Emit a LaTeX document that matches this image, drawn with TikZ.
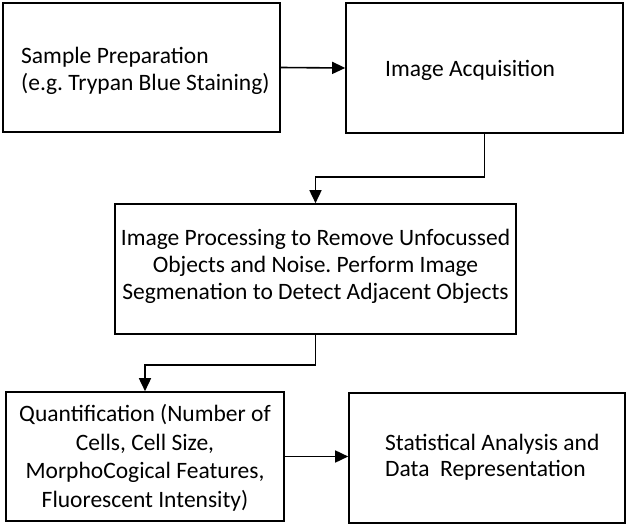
\documentclass[tikz,border=0pt]{standalone}
\usepackage{fontspec}
\setmainfont{Carlito}
\usetikzlibrary{arrows.meta}
\frenchspacing
\begin{document}
\begin{tikzpicture}[x=1pt,y=-1pt,
  box/.style={draw=black,line width=1.6pt,minimum width=#1,inner sep=0pt},
  lbl/.style={font=\fontsize{23.5}{27}\selectfont,inner sep=0pt},
  arr/.style={line width=1.6pt,-{Triangle[length=13pt,width=12pt]}}]
\useasboundingbox (0,0) rectangle (630,527);
\node[box=277pt,minimum height=129pt] (b1) at (141.5,67.5) {};
\node[box=277pt,minimum height=130pt] (b2) at (484.5,68) {};
\node[box=401pt,minimum height=130pt] (b3) at (315.5,269) {};
\node[box=278pt,minimum height=129pt] (b4) at (145,456.5) {};
\node[box=276pt,minimum height=130pt] (b5) at (487,458) {};
\node[lbl,anchor=west,align=left] (t1) at (21,71) {Sample Preparation\\(e.g. Trypan Blue Staining)};
\node[lbl,anchor=west] (t2) at (385,70) {Image Acquisition};
\node[lbl,align=center] (t3) at (315.5,266) {Image Processing to Remove Unfocussed\\Objects and Noise. Perform Image\\Segmenation to Detect Adjacent Objects};
\node[lbl,align=center,font=\fontsize{23.5}{28.5}\selectfont] (t4) at (145,458) {Quantification (Number of\\Cells, Cell Size,\\MorphoCogical Features,\\Fluorescent Intensity)};
\node[lbl,anchor=west,align=left,font=\fontsize{23.5}{26}\selectfont] (t5) at (385,457) {Statistical Analysis and\\Data\ \ Representation};
\draw[arr] (b1.east) -- (b2.west);
\draw[arr] (b2.south) -- ++(0,43) -| (b3.north);
\draw[arr] (b3.south) -- ++(0,30) -| (b4.north);
\draw[arr] (b4.east) -- (b4.east -| b5.west);
\end{tikzpicture}
\end{document}
